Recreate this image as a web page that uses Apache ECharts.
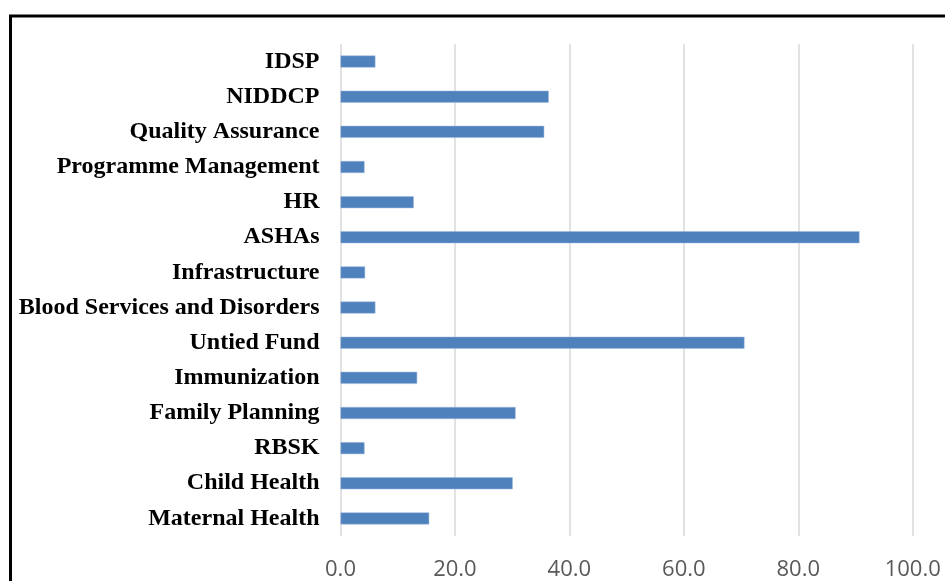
<!DOCTYPE html>
<html>
<head>
<meta charset="utf-8">
<script src="https://cdn.jsdelivr.net/npm/echarts@6/dist/echarts.min.js"></script>
<style>
  html, body { margin: 0; padding: 0; background: #fff; }
  #chart { width: 945px; height: 581px; }
</style>
</head>
<body>
<div id="chart"></div>
<script>
// 类目（自下而上）
var categories = ['Maternal Health', 'Child Health', 'RBSK', 'Family Planning', 'Immunization',
    'Untied Fund', 'Blood Services and Disorders', 'Infrastructure', 'ASHAs', 'HR',
    'Programme Management', 'Quality Assurance', 'NIDDCP', 'IDSP'];
// 数值
var values = [15.5, 30.1, 4.2, 30.6, 13.4, 70.6, 6.1, 4.3, 90.7, 12.8, 4.2, 35.6, 36.4, 6.1];
// x轴刻度
var xMin = 0, xMax = 100, xStep = 20;

(function () {
    var myChart = echarts.init(document.getElementById('chart'));
    var option = {
        animation: false,
        // 外框（只露出左边和上边）
        graphic: [{
            type: 'rect',
            shape: { x: 10.5, y: 16, width: 1200, height: 1200 },
            style: { fill: 'none', stroke: '#000', lineWidth: 3 },
            silent: true
        }],
        grid: {
            left: 340.5,
            right: 32.3,
            top: 44,
            bottom: 43
        },
        xAxis: {
            type: 'value',
            min: xMin,
            max: xMax,
            interval: xStep,
            axisLine: { show: false },
            axisTick: { show: false },
            axisLabel: {
                color: '#595959',
                fontSize: 22,
                fontFamily: 'Open Sans',
                margin: 23,
                formatter: function (v) { return v.toFixed(1); }
            },
            splitLine: {
                lineStyle: { color: '#d9d9d9', width: 1.5 }
            }
        },
        yAxis: {
            type: 'category',
            data: categories,
            axisLine: { show: false },
            axisTick: { show: false },
            axisLabel: {
                color: '#000',
                fontSize: 24,
                fontWeight: 'bold',
                fontFamily: 'Liberation Serif',
                margin: 21,
                padding: [0, 0, 4, 0]
            }
        },
        series: [{
            type: 'bar',
            data: values,
            barWidth: 12,
            itemStyle: {
                color: '#4f81bd',
                borderColor: '#9fb8dd',
                borderWidth: 0.5
            }
        }]
    };
    myChart.setOption(option);
})();
</script>
</body>
</html>
